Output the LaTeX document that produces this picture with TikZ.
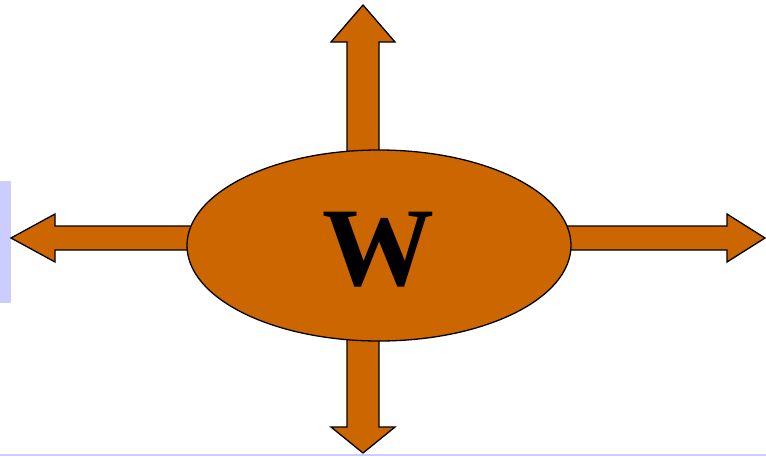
\documentclass[tikz,border=0pt]{standalone}
\usepackage{fontspec}
\setmainfont{Liberation Serif}
\usetikzlibrary{shapes.geometric, positioning}
\definecolor{burnt}{HTML}{CC6600}
\definecolor{paleblue}{HTML}{CCCCFF}
\tikzset{
  blockarrow/.style={draw=black, fill=burnt, line width=1.3pt, line join=miter},
  bigoval/.style={ellipse, draw=black, fill=burnt, line width=1.3pt,
    minimum width=384pt, minimum height=191pt, inner sep=0pt}
}

\begin{document}
\begin{tikzpicture}[x=1pt, y=-1pt]
    \useasboundingbox (0,0) rectangle (766,456);

    % Margin marks
    \fill[paleblue] (0,181) rectangle (11,303);
    \draw[paleblue, line width=2pt] (0,454.5) -- (766,454.5);

    % Up arrow
    \draw[blockarrow] (347,200) -- (347,42) -- (331,42) -- (363,5)
        -- (395,42) -- (379,42) -- (379,200) -- cycle;
    % Down arrow
    \draw[blockarrow] (347,300) -- (347,427) -- (331,427) -- (363,453)
        -- (395,427) -- (379,427) -- (379,300) -- cycle;
    % Left arrow
    \draw[blockarrow] (250,226) -- (55,226) -- (55,214) -- (11,238)
        -- (55,262) -- (55,250) -- (250,250) -- cycle;
    % Right arrow
    \draw[blockarrow] (500,226) -- (727,226) -- (727,214) -- (765,238)
        -- (727,262) -- (727,250) -- (500,250) -- cycle;

    % Centre oval
    \node[bigoval] (oval) at (379,245.5) {};
    \node[font=\fontsize{112}{112}\selectfont\bfseries, inner sep=0pt]
        (wlabel) at (378.5,250) {W};

\end{tikzpicture}
\end{document}
